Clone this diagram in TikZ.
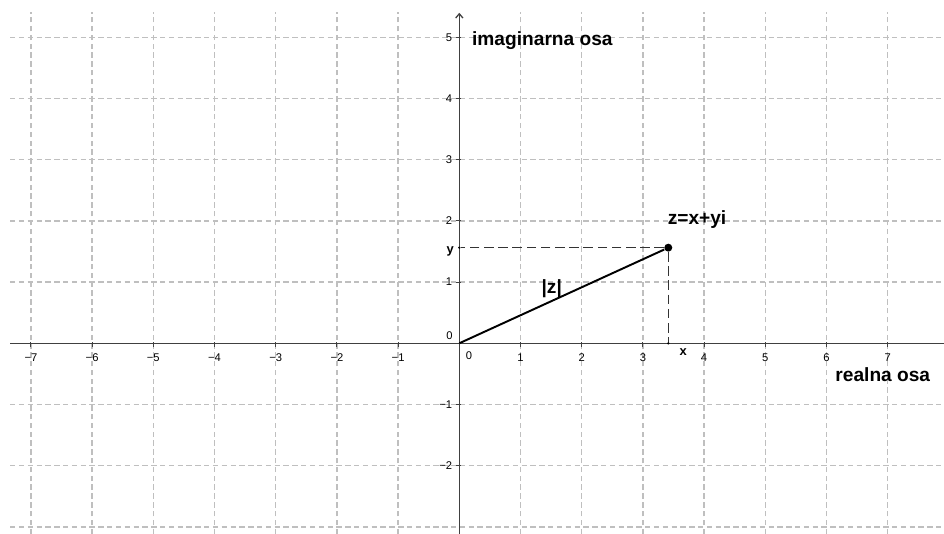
\documentclass[tikz,border=0pt]{standalone}
\usepackage{fontspec}
\setmainfont{Liberation Sans}
\usetikzlibrary{arrows.meta}

\begin{document}
\begin{tikzpicture}[
  gridline/.style={color=black!25, line width=0.7pt,
                   dash pattern=on 2.5pt off 1.6pt},
  axis/.style={color=black!75, line width=0.6pt},
  tickmark/.style={color=black!75, line width=0.5pt},
  num/.style={font=\fontsize{5.2}{6}\selectfont, inner sep=0pt},
  lbl/.style={font=\fontsize{8.9}{10}\selectfont\bfseries, inner sep=0pt},
  small lbl/.style={font=\fontsize{6}{7}\selectfont\bfseries, inner sep=0pt},
  helper/.style={color=black!80, line width=0.6pt,
                 dash pattern=on 4.4pt off 2.2pt},
  seg/.style={line width=0.9pt},
  pt/.style={circle, fill=black, inner sep=0pt, minimum size=3.7pt},
  foot/.style={circle, fill=black, inner sep=0pt, minimum size=1.2pt},
]
  \useasboundingbox (-7.505,-3.116) rectangle (7.92,5.609);

  % grid
  \foreach \x in {-7,...,-1,1,2,...,7}
    \draw[gridline] (\x,-3.116) -- (\x,5.41);
  \foreach \y in {-3,-2,-1,1,2,3,4,5}
    \draw[gridline] (-7.34,\y) -- (7.92,\y);

  % axes
  \coordinate (O)  at (0,0);
  \coordinate (xl) at (-7.34,0);
  \coordinate (xr) at (7.92,0);
  \coordinate (yb) at (0,-3.116);
  \coordinate (yt) at (0,5.40);
  \draw[axis] (xl) -- (xr);
  \draw[axis, -{Straight Barb[length=2pt, width=3.4pt]}] (yb) -- (yt);

  % ticks and numbers
  \foreach \x in {1,...,7} {
    \draw[tickmark] (\x,0.02) -- (\x,-0.06);
    \draw[tickmark] (-\x,0.02) -- (-\x,-0.06);
    \node[num, anchor=north] (xp\x) at (\x,-0.16) {\x};
    \node[num, anchor=north] (xn\x) at (-\x,-0.16) {−\x};
  }
  \foreach \y in {1,...,5} {
    \draw[tickmark] (-0.06,\y) -- (0.02,\y);
    \node[num, anchor=east] (yp\y) at (-0.11,\y) {\y};
  }
  \foreach \y in {1,2} {
    \draw[tickmark] (-0.06,-\y) -- (0.02,-\y);
    \node[num, anchor=east] (yn\y) at (-0.11,-\y) {−\y};
  }
  \node[num] (x0) at (0.16,-0.21) {0};
  \node[num] (y0) at (-0.16,0.12) {0};

  % axis names
  \node[lbl, anchor=base west] (imlab) at (0.203,4.858) {imaginarna osa};
  \node[lbl, anchor=base west] (relab) at (6.139,-0.627) {realna osa};

  % the point z
  \node[pt]   (Z)  at (3.415,1.562) {};
  \node[foot] (Zx) at (3.415,0) {};
  \node[foot] (Zy) at (0,1.562) {};
  \draw[helper] (Z) -- (Zy);
  \draw[helper] (Z) -- (Zx);
  \draw[seg] (O) -- (Z);

  \node[lbl, anchor=base west] (zlab) at (3.399,1.933) {z=x+yi};
  \node[lbl, anchor=base] (modlab) at (1.51,0.817) {|z|};
  \node[small lbl, anchor=base] (ylab) at (-0.147,1.459) {y};
  \node[small lbl, anchor=base] (xlab) at (3.66,-0.207) {x};
\end{tikzpicture}
\end{document}
